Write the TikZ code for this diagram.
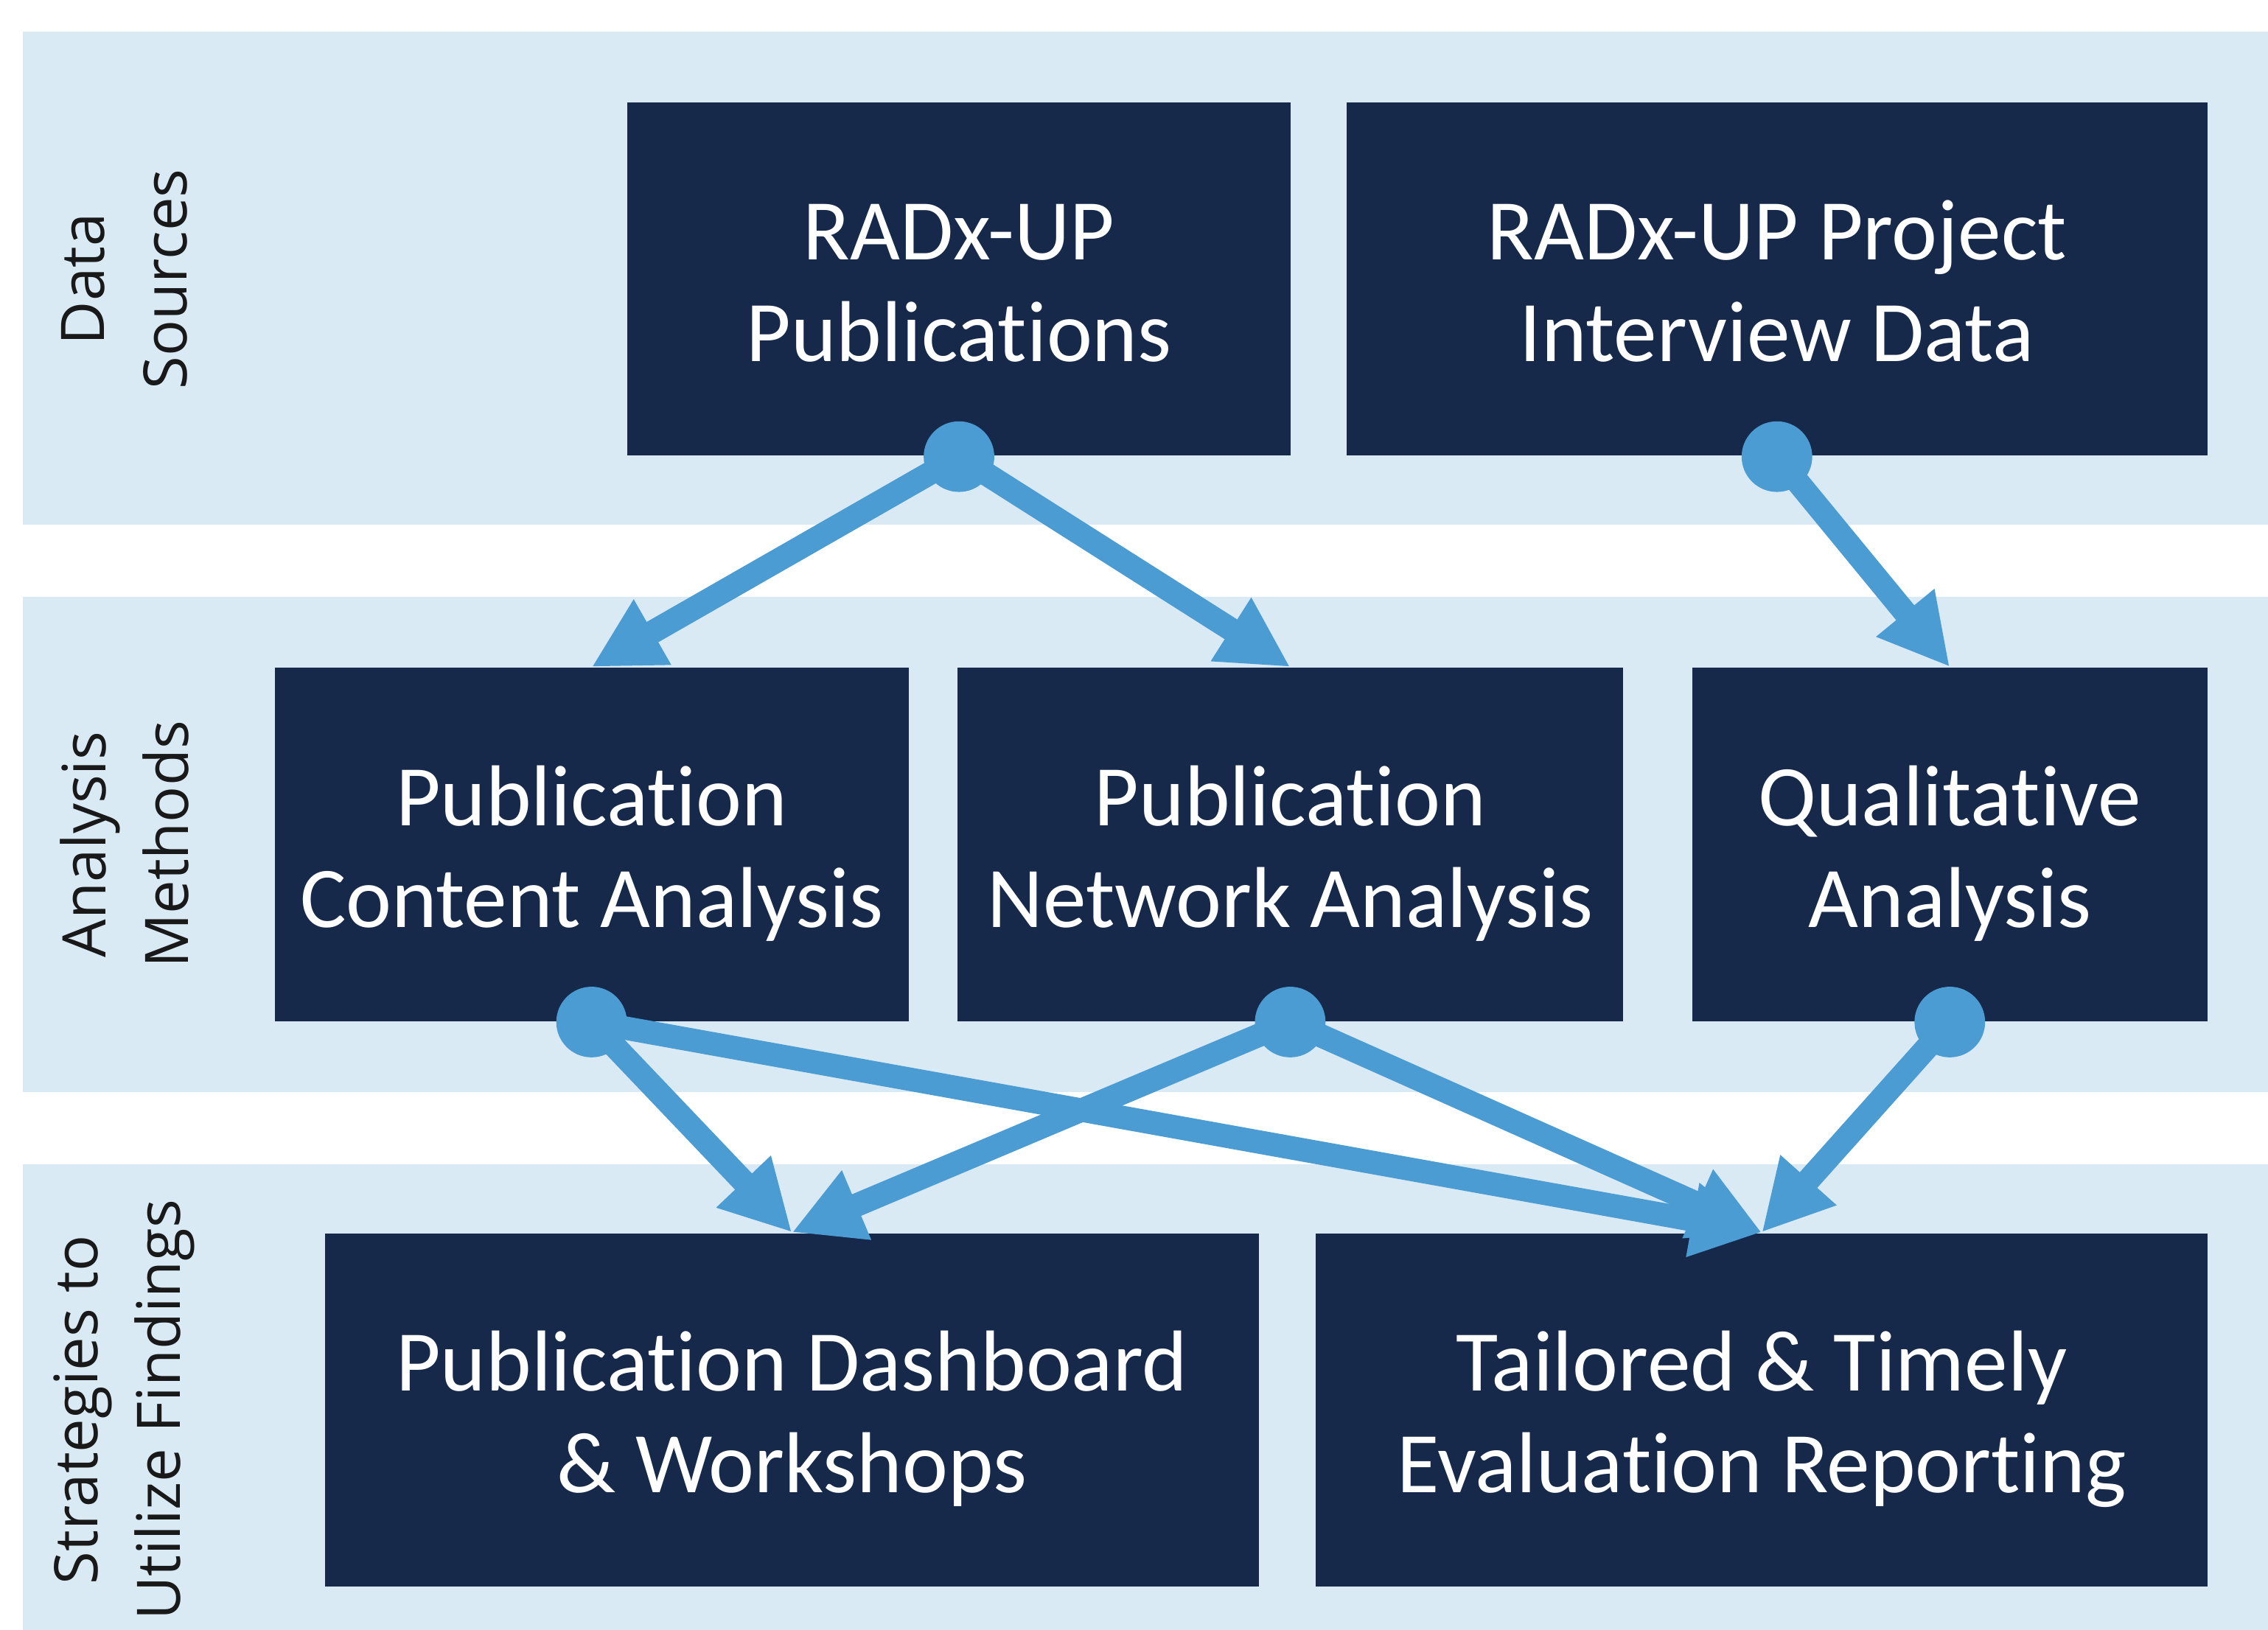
\documentclass[tikz,border=0pt]{standalone}
\usepackage{fontspec}
\setmainfont{Carlito}[Ligatures=NoCommon]
\newfontfamily\sidefont{Open Sans}
\usepackage{tikz}
\usetikzlibrary{arrows.meta}
\definecolor{bandblue}{RGB}{218,234,245}
\definecolor{boxnavy}{RGB}{22,41,75}
\definecolor{linkblue}{RGB}{75,156,211}

\begin{document}
\begin{tikzpicture}[x=0.01cm,y=-0.01cm]
\useasboundingbox (0,0) rectangle (1568,1127);
% bands
\fill[bandblue] (16,22) rectangle (1568,363);
\fill[bandblue] (16,413) rectangle (1568,755);
\fill[bandblue] (16,805) rectangle (1568,1160);

\begin{scope}[every node/.style={rotate=90,align=center,text=black!90,
              font=\sidefont\fontsize{11.8}{16.2}\selectfont}]
    \node (lsrc) at (86,193) {Data\\Sources};
    \node (lmeth) at (86,584) {Analysis\\Methods};
    \node (lstrat) at (86,975) {Strategies to\\Utilize Findings};
\end{scope}

\begin{scope}[every node/.style={fill=boxnavy,text=white,align=center,
              minimum height=2.44cm,inner sep=0pt,
              text height=36.5pt,text depth=4pt,
              font=\fontsize{17}{20}\selectfont}]
    \node[minimum width=4.58cm] (pub) at (663,193) {RADx-UP\\Publications};
    \node[minimum width=5.95cm] (intv) at (1228.5,193) {RADx-UP Project\\Interview Data};
    \node[minimum width=4.38cm] (content) at (409,584) {Publication\\Content Analysis};
    \node[minimum width=4.60cm] (network) at (892,584) {Publication\\Network Analysis};
    \node[minimum width=3.56cm] (qual) at (1348,584) {Qualitative\\Analysis};
    \node[minimum width=6.45cm] (dash) at (547.5,975) {Publication Dashboard\\\& Workshops};
    \node[minimum width=6.16cm] (report) at (1218,975) {Tailored \& Timely\\Evaluation Reporting};
\end{scope}

\begin{scope}[>={Triangle[length=4.85mm,width=4.85mm]},
              every edge/.style={draw=linkblue,line width=4.6pt}]
    \path [->] (pub.south) edge (content.north);
    \path [->] (pub.south) edge (network.north);
    \path [->] (intv.south) edge (qual.north);
    \path [->] (content.south) edge (dash.north);
    \path [->] (content.south) edge (report.north);
    \path [->] (network.south) edge (dash.north);
    \path [->] (network.south) edge (report.north);
    \path [->] (qual.south) edge (report.north);
\end{scope}
\foreach \n in {pub,intv,content,network,qual}
    \fill[linkblue] (\n.south) circle (0.244cm);
\end{tikzpicture}
\end{document}
